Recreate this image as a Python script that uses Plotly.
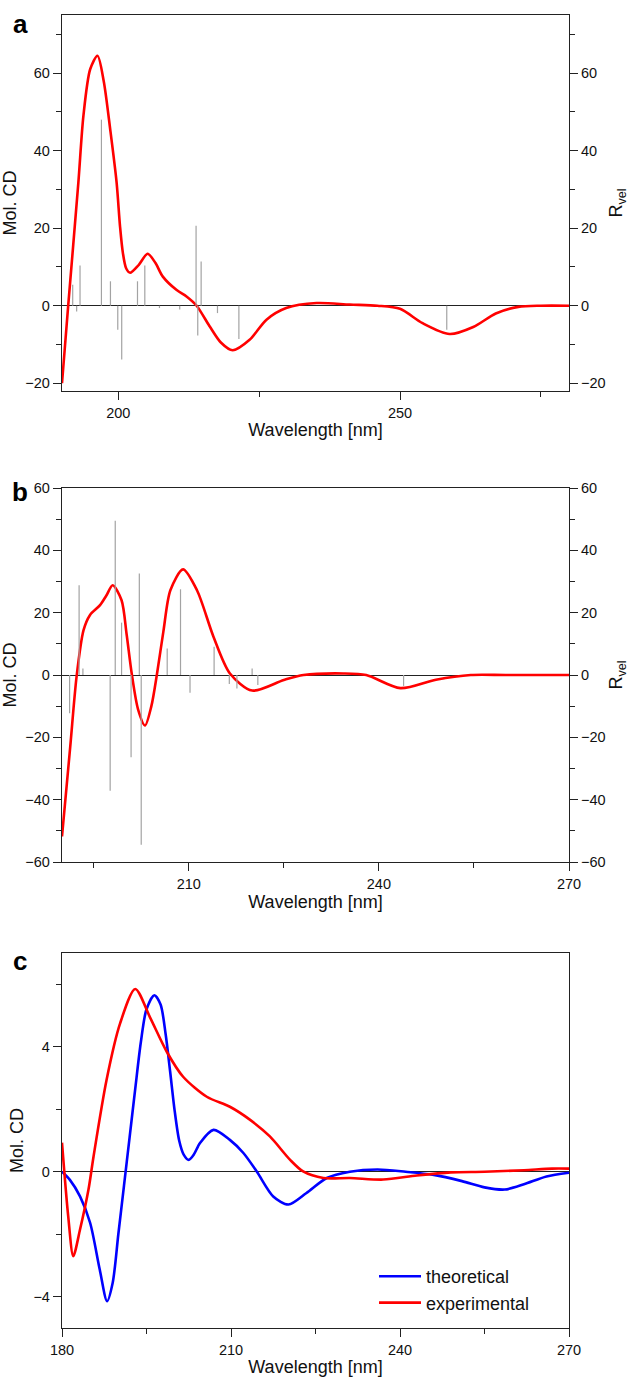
import plotly.graph_objects as go

# ---------------- Panel a ----------------
a_wl = [190, 191.1, 192.9, 193.8, 195.0, 196.3, 197.4, 198.6, 199.7, 200.3, 200.8, 201.4, 202.1, 203.6, 205.2, 206.6,
        207.9, 210.3, 212.1, 213.9, 216.2, 218.2, 220.3, 223.3, 226.3, 229.8, 235.2, 241.1,
        246, 250, 254, 258.8, 263, 267, 271, 275, 280]
a_cd = [-20, 0, 31.7, 49, 61, 64.5, 58, 45, 31.7, 20.5, 13.7, 9.6, 8.5, 10.5, 13.4, 11,
        7.5, 4.1, 2.4, 0, -5.3, -9.5, -11.5, -8.8, -3.6, -0.6, 0.7, 0.3,
        0, -0.8, -4.5, -7.3, -5.5, -2, -0.3, 0, 0]
a_stick_wl = [191.9, 192.6, 193.2, 197.0, 198.6, 199.9, 200.6, 203.4, 204.7, 207.3,
              210.9, 213.8, 214.1, 214.7, 217.6, 221.4, 258.3]
a_stick_r = [5.4, -1.5, 10.4, 48, 6.3, -6.2, -13.9, 6.3, 10.4, -0.6,
             -1.0, 20.6, -7.7, 11.4, -1.9, -8.6, -6.2]

# ---------------- Panel b ----------------
b_wl = [190, 191.3, 192.3, 193.4, 194.4, 196.0, 197.0, 198.0, 199.4, 200.2, 201.0, 202.0,
        203.1, 204.1, 205.0, 206.0, 207.1, 209.1, 211.3, 213.9, 216.5, 220, 225, 228.1,
        234.4, 238, 243.4, 249, 254.5, 260, 270]
b_cd = [-51.8, -23, -0.5, 14.4, 19.2, 22.4, 25.5, 28.8, 24, 13, 0.5, -11,
        -16.2, -10, 0.5, 14, 27.2, 33.9, 27.2, 12.3, 0.5, -5, -1.6, 0,
        0.5, 0, -4.2, -1.5, 0, 0, 0]
b_stick_wl = [191.2, 192.7, 193.3, 197.6, 198.4, 199.4, 200.9, 202.2, 202.5, 206.6,
              208.7, 210.2, 214.0, 216.4, 217.6, 220.0, 220.9, 243.9]
b_stick_r = [-12.3, 28.8, 2.1, -37.1, 49.5, 16.8, -26.4, 32.6, -54.5, 8.5,
             27.5, -5.7, 9.1, -2.9, -4.3, 2.1, -3.2, -3.5]

# ---------------- Panel c ----------------
c_exp_wl = [180, 181.1, 182.0, 183.2, 184.7, 185.6, 187.9, 190.3, 193.0, 195.6, 198.6,
            201.5, 205.7, 209.8, 213.4, 216.9, 220.5, 222.8, 226.4, 231.1, 237, 243,
            249, 255, 262, 267, 270]
c_exp_cd = [0.93, -1.42, -2.7, -1.85, -0.57, 0.49, 2.93, 4.74, 5.85, 4.95, 3.84,
            3.04, 2.4, 2.08, 1.66, 1.13, 0.38, 0.01, -0.2, -0.2, -0.25, -0.12,
            -0.02, 0.0, 0.05, 0.1, 0.1]
c_theo_wl = [180, 181.4, 183.2, 185.0, 186.7, 188.0, 189.0, 190.0, 191.0, 192.0, 193.0, 194.0,
             195.0, 196.4, 197.5, 198.4, 199.2, 200.0, 200.8, 201.6, 202.5, 203.4, 204.5, 206.9,
             209.8, 212.2, 214.6, 217.5, 220.2, 223.4, 227.0, 231.1, 236, 241, 246, 251, 255,
             258.6, 262, 266, 270]
c_theo_cd = [0, -0.26, -0.79, -1.64, -3.13, -4.14, -3.55, -2.0, -0.45, 1.1, 2.65, 4.15,
             5.2, 5.65, 5.35, 4.4, 3.2, 1.95, 1.0, 0.55, 0.38, 0.55, 0.92, 1.34,
             1.02, 0.6, 0, -0.79, -1.05, -0.68, -0.2, 0, 0.07, 0, -0.1, -0.3, -0.5,
             -0.57, -0.4, -0.15, -0.03]

legend_names = ["theoretical", "experimental"]

W, H = 629, 1380
FONT = "Arial, Liberation Sans, Helvetica, sans-serif"
RED = "#ff0000"
BLUE = "#0000ff"
GRAY = "#a3a3a3"


def sticks(wl, vals):
    xs, ys = [], []
    for w, v in zip(wl, vals):
        xs += [w, w, None]
        ys += [0, v, None]
    return xs, ys


def ydom(top, bottom):
    return [1 - bottom / H, 1 - top / H]


xdom = [62 / W, 569 / W]

fig = go.Figure()
SM = 0.8

# panel a
sx, sy = sticks(a_stick_wl, a_stick_r)
fig.add_trace(go.Scatter(x=sx, y=sy, mode="lines", line=dict(color=GRAY, width=1.2),
                         xaxis="x", yaxis="y4", showlegend=False, hoverinfo="skip"))
fig.add_trace(go.Scatter(x=a_wl, y=a_cd, mode="lines", line=dict(color=RED, width=2.6, shape="spline", smoothing=SM),
                         xaxis="x", yaxis="y", showlegend=False))
# panel b
sx, sy = sticks(b_stick_wl, b_stick_r)
fig.add_trace(go.Scatter(x=sx, y=sy, mode="lines", line=dict(color=GRAY, width=1.2),
                         xaxis="x2", yaxis="y5", showlegend=False, hoverinfo="skip"))
fig.add_trace(go.Scatter(x=b_wl, y=b_cd, mode="lines", line=dict(color=RED, width=2.6, shape="spline", smoothing=SM),
                         xaxis="x2", yaxis="y2", showlegend=False))
# panel c
fig.add_trace(go.Scatter(x=c_theo_wl, y=c_theo_cd, mode="lines", name=legend_names[0],
                         line=dict(color=BLUE, width=2.6, shape="spline", smoothing=SM),
                         xaxis="x3", yaxis="y3"))
fig.add_trace(go.Scatter(x=c_exp_wl, y=c_exp_cd, mode="lines", name=legend_names[1],
                         line=dict(color=RED, width=2.6, shape="spline", smoothing=SM),
                         xaxis="x3", yaxis="y3"))

tickfont = dict(family=FONT, size=14.5, color="#111")
titlefont = dict(family=FONT, size=18, color="#111")


def xax(dom_anchor, rng, dtick, minor):
    return dict(domain=xdom, anchor=dom_anchor, range=rng, tick0=0, dtick=dtick,
                showline=True, linecolor="#222", linewidth=1.3, mirror=True,
                ticks="outside", ticklen=8, tickwidth=1.3, tickcolor="#222",
                minor=dict(dtick=minor, tick0=0, ticks="outside", ticklen=5, tickwidth=1.3, tickcolor="#222"),
                showgrid=False, zeroline=False, tickfont=tickfont,
                title=dict(text="Wavelength [nm]", font=titlefont, standoff=3))


def yax(anchor, dom, rng, dtick, minor, title="Mol. CD", side="left", overlay=None):
    d = dict(domain=dom, anchor=anchor, range=rng, tick0=0, dtick=dtick, side=side,
             showline=True, linecolor="#222", linewidth=1.3, mirror=(overlay is None),
             ticks="outside", ticklen=8, tickwidth=1.3, tickcolor="#222",
             minor=dict(dtick=minor, tick0=0, ticks="outside", ticklen=5, tickwidth=1.3, tickcolor="#222"),
             showgrid=False, zeroline=(overlay is None), zerolinecolor="#222", zerolinewidth=1.3,
             tickfont=tickfont, title=dict(text=title, font=titlefont, standoff=5))
    if overlay:
        d["overlaying"] = overlay
    return d


fig.update_layout(
    width=W, height=H, template="none",
    paper_bgcolor="white", plot_bgcolor="white",
    margin=dict(l=0, r=0, t=0, b=0, pad=0),
    font=dict(family=FONT, color="#111"),
    xaxis=xax("y", [190, 280], 50, 25),
    yaxis=yax("x", ydom(15, 391), [-22, 75], 20, 10),
    yaxis4=yax("x", ydom(15, 391), [-22, 75], 20, 10, title="R<sub>vel</sub>", side="right", overlay="y"),
    xaxis2=xax("y2", [190, 270], 30, 15),
    yaxis2=yax("x2", ydom(488, 862), [-60, 60], 20, 10),
    yaxis5=yax("x2", ydom(488, 862), [-60, 60], 20, 10, title="R<sub>vel</sub>", side="right", overlay="y2"),
    xaxis3=xax("y3", [180, 270], 30, 15),
    yaxis3=yax("x3", ydom(953, 1328), [-5, 7], 4, 2),
    showlegend=True,
    legend=dict(x=374 / W, y=1 - 1258 / H, xanchor="left", yanchor="top",
                bgcolor="rgba(0,0,0,0)", font=dict(family=FONT, size=18, color="#111"),
                tracegroupgap=0, itemwidth=42),
)

for txt, ypx in [("a", 24), ("b", 492), ("c", 961)]:
    fig.add_annotation(text=f"<b>{txt}</b>", x=20 / W, y=1 - ypx / H, xref="paper", yref="paper",
                       xanchor="center", yanchor="middle", showarrow=False,
                       font=dict(family=FONT, size=26, color="#000"))

fig.write_html("out.html", config={"displayModeBar": False},
               post_script="document.body.style.margin='0';")
